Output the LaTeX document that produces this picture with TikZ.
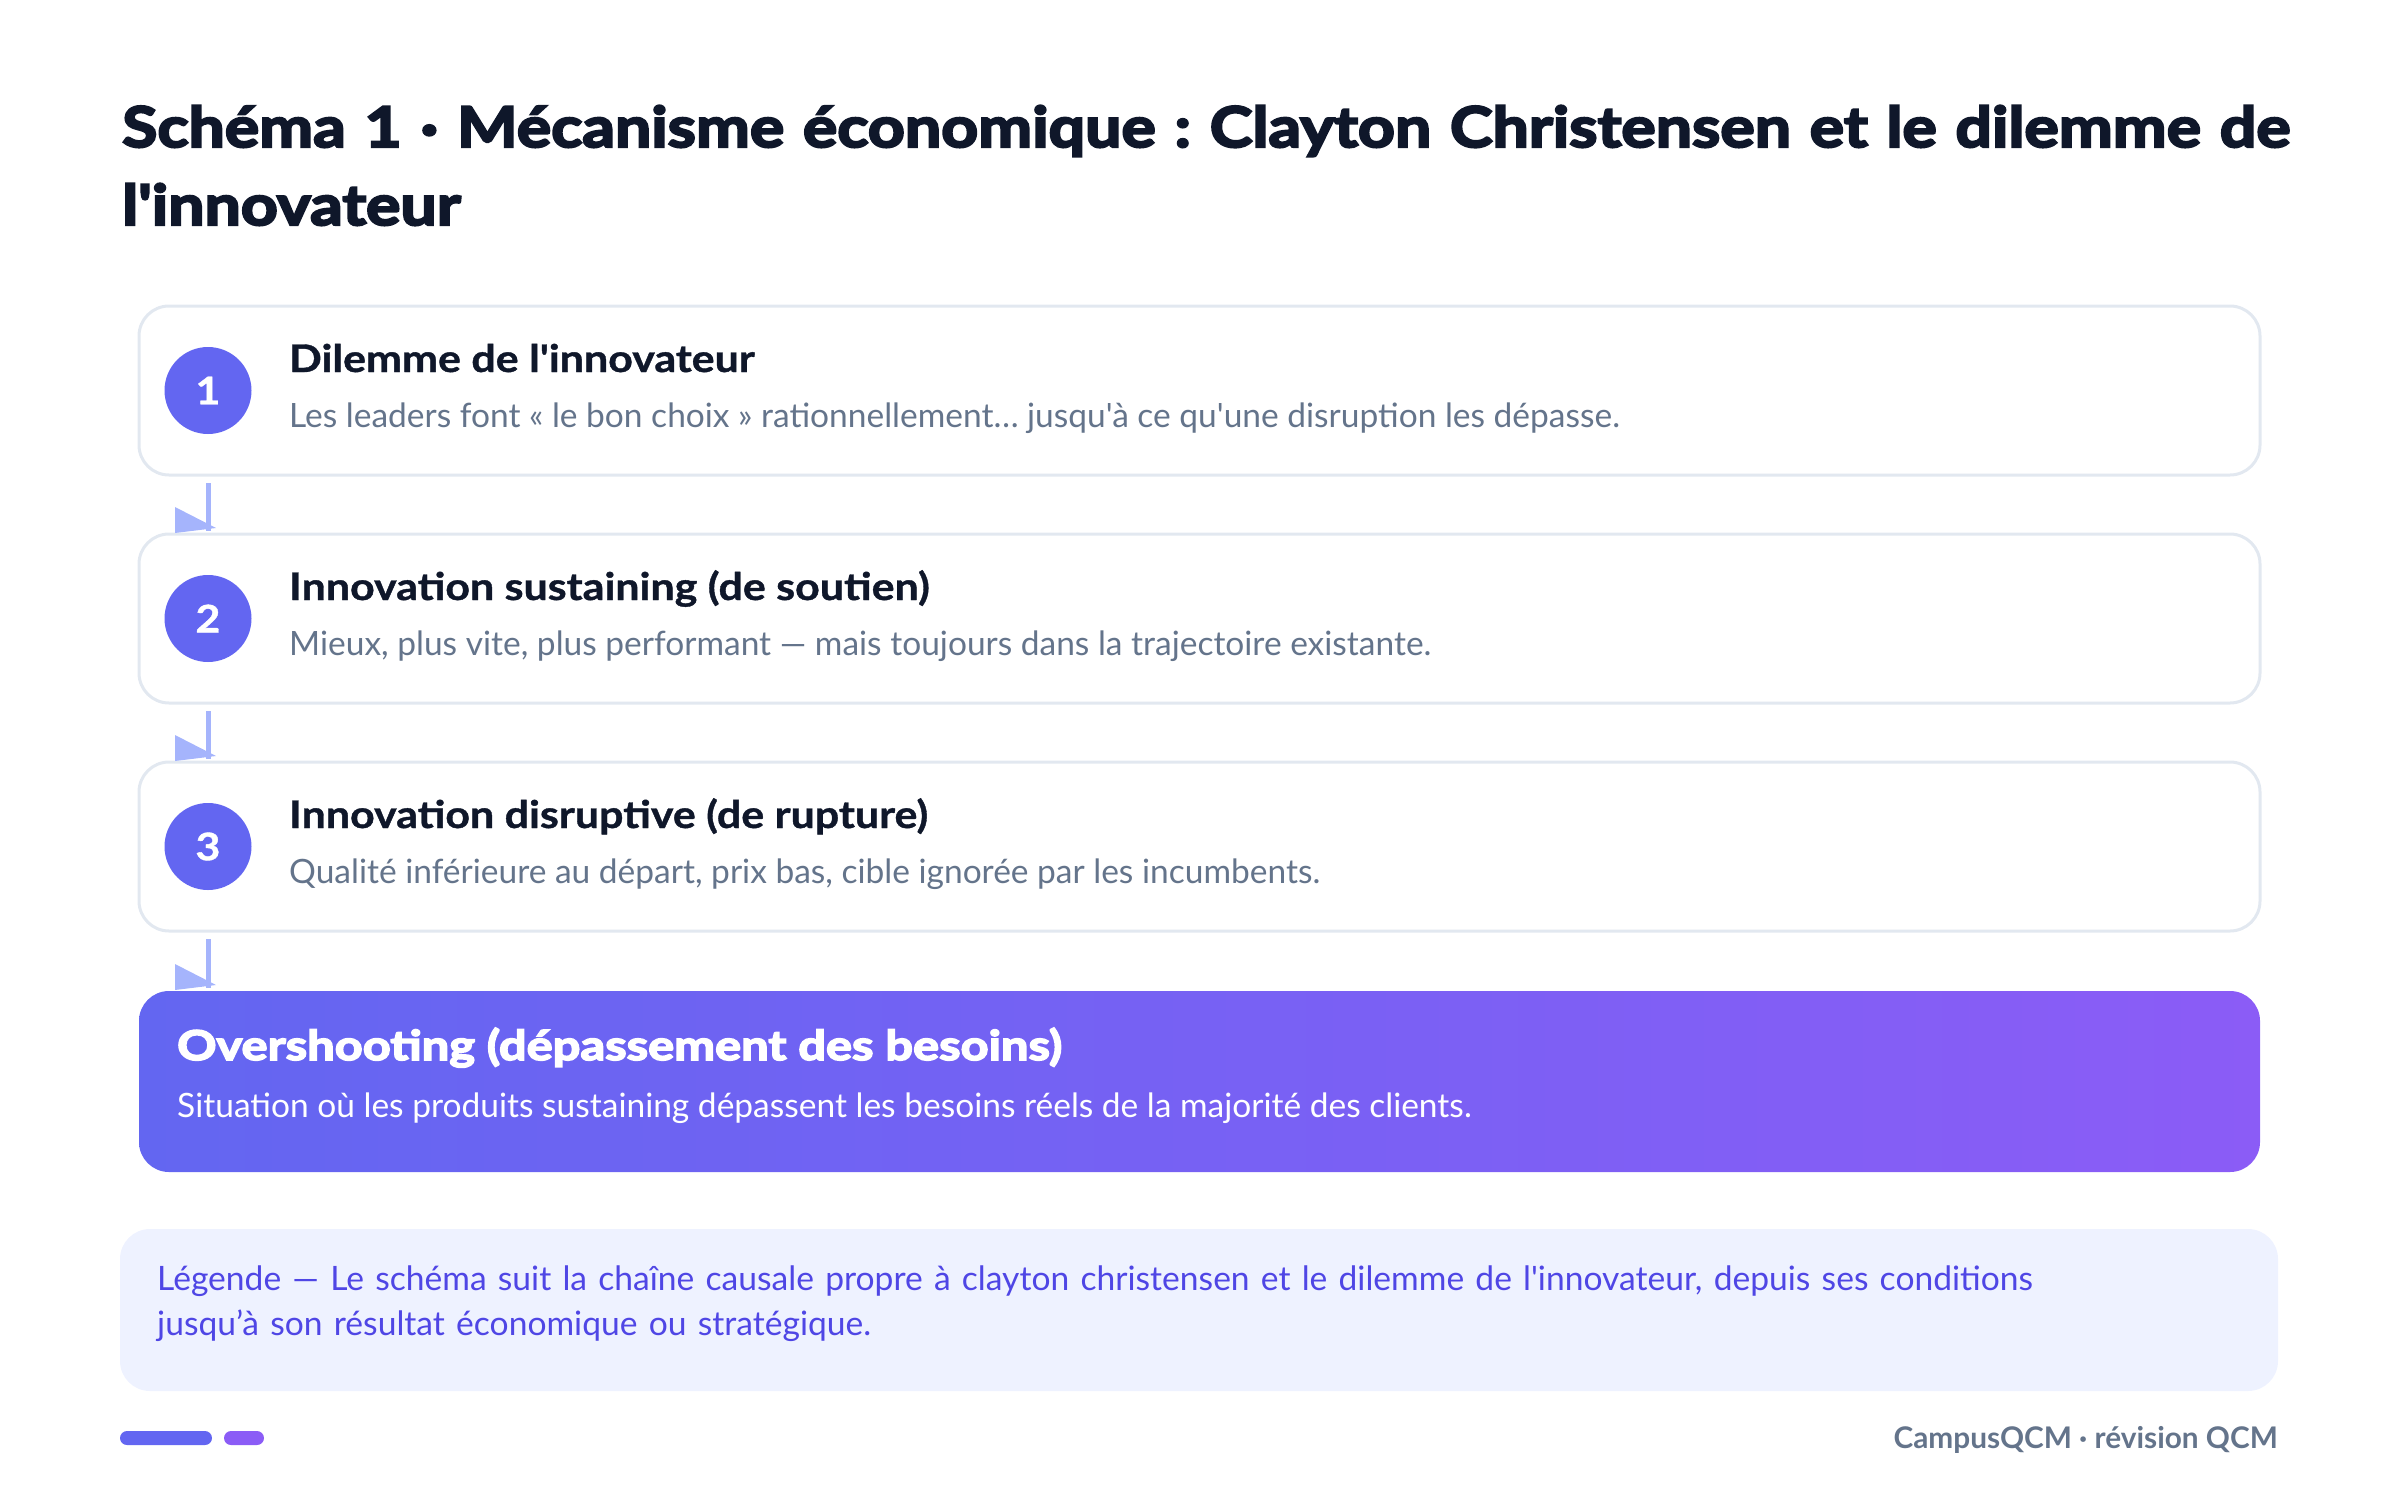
\documentclass[tikz,border=0pt]{standalone}
\usepackage{fontspec}
\setmainfont{Lato}[Ligatures=TeXOff]
\newfontfamily\heavyfont{Lato}[Ligatures=TeXOff,FakeBold=4,FakeStretch=1.15]
\newfontfamily\overfont{Lato}[Ligatures=TeXOff,FakeBold=4,FakeStretch=1.19]
\newfontfamily\headfont{Lato}[Ligatures=TeXOff,FakeBold=1,FakeStretch=1.13]
\usetikzlibrary{positioning}
\frenchspacing

\definecolor{ink}{HTML}{0F172A}
\definecolor{slate}{HTML}{64748B}
\definecolor{edge}{HTML}{E2E8F0}
\definecolor{indigo}{HTML}{6366F1}
\definecolor{violet}{HTML}{8B5CF6}
\definecolor{flowblue}{HTML}{A5B4FC}
\definecolor{legendbg}{HTML}{EEF2FF}
\definecolor{legendink}{HTML}{4F46E5}

\begin{document}
\begin{tikzpicture}[x=1pt,y=-1pt,
    card/.style={draw=edge,line width=3pt,fill=white,rounded corners=30pt,
                 minimum width=2121pt,minimum height=169pt,inner sep=0pt,outer sep=0pt},
    over/.style={rounded corners=30pt,left color=indigo,right color=violet,
                 minimum width=2121pt,minimum height=181pt,inner sep=0pt,outer sep=0pt},
    badge/.style={circle,fill=indigo,minimum size=87pt,inner sep=0pt,text=white,
                  font=\headfont\bfseries\fontsize{38}{38}\selectfont},
    head/.style={anchor=base west,inner sep=0pt,text=ink,
                 font=\headfont\bfseries\fontsize{38}{44}\selectfont},
    sub/.style={anchor=base west,inner sep=0pt,text=slate,
                font=\fontsize{33.5}{40}\selectfont},
    flow/.style={draw=flowblue,line width=5pt}]

  \useasboundingbox (0,0) rectangle (2400,1499);

  % title
  \node[anchor=base west,inner sep=0pt,text width=2275pt,align=left,text=ink,
        font=\heavyfont\bfseries\fontsize{56}{78}\selectfont] (title) at (122,147)
    {Schéma 1 · Mécanisme économique : Clayton Christensen et le dilemme de\\l'innovateur};

  % steps
  \node[card] (c1) at (1199.5,390.5) {};
  \node[card,below=59pt of c1] (c2) {};
  \node[card,below=59pt of c2] (c3) {};
  \node[over,below=60pt of c3] (over) {};

  \node[badge] (b1) at ([xshift=69pt]c1.west) {1};
  \node[badge] (b2) at ([xshift=69pt]c2.west) {2};
  \node[badge] (b3) at ([xshift=69pt]c3.west) {3};

  \node[head] (h1) at ([xshift=150pt,yshift=-66pt]c1.north west) {Dilemme de l'innovateur};
  \node[sub]  (s1) at ([xshift=150pt,yshift=-121pt]c1.north west)
    {Les leaders font « le bon choix » rationnellement… jusqu'à ce qu'une disruption les dépasse.};
  \node[head] (h2) at ([xshift=150pt,yshift=-66pt]c2.north west) {Innovation sustaining (de soutien)};
  \node[sub]  (s2) at ([xshift=150pt,yshift=-121pt]c2.north west)
    {Mieux, plus vite, plus performant — mais toujours dans la trajectoire existante.};
  \node[head] (h3) at ([xshift=150pt,yshift=-66pt]c3.north west) {Innovation disruptive (de rupture)};
  \node[sub]  (s3) at ([xshift=150pt,yshift=-121pt]c3.north west)
    {Qualité inférieure au départ, prix bas, cible ignorée par les incumbents.};

  \node[anchor=base west,inner sep=0pt,text=white,font=\overfont\bfseries\fontsize{41}{48}\selectfont]
    (oh) at ([xshift=38pt,yshift=-69pt]over.north west) {Overshooting (dépassement des besoins)};
  \node[sub,text=white] (os) at ([xshift=38pt,yshift=-126pt]over.north west)
    {Situation où les produits sustaining dépassent les besoins réels de la majorité des clients.};

  % connectors
  \foreach \a/\b in {c1/c2,c2/c3,c3/over}{
    \draw[flow] ([yshift=-8pt]\a.south -| b1) -- ([yshift=3pt]\b.north -| b1) coordinate (tip);
    \fill[flowblue] ([shift={(-33,-24)}]tip) -- ([shift={(-33,2)}]tip) -- ([shift={(8,-3)}]tip) -- cycle;
  }

  % legend
  \node[fill=legendbg,rounded corners=30pt,minimum width=2158pt,minimum height=162pt,
        inner sep=0pt] (leg) at (1199,1310) {};
  \node[anchor=base west,inner sep=0pt,text width=2100pt,align=left,text=legendink,
        font=\fontsize{33.6}{45}\selectfont] (legtxt) at (157,1290)
    {Légende — Le schéma suit la chaîne causale propre à clayton christensen et le dilemme de l'innovateur, depuis ses conditions\\jusqu’à son résultat économique ou stratégique.};

  % footer
  \fill[indigo,rounded corners=7pt] (120,1431) rectangle (212,1445);
  \fill[violet,rounded corners=7pt] (224,1431) rectangle (264,1445);
  \node[anchor=base east,inner sep=0pt,text=slate,font=\bfseries\fontsize{29.8}{32}\selectfont]
    (foot) at (2278,1448) {CampusQCM · révision QCM};
\end{tikzpicture}
\end{document}
